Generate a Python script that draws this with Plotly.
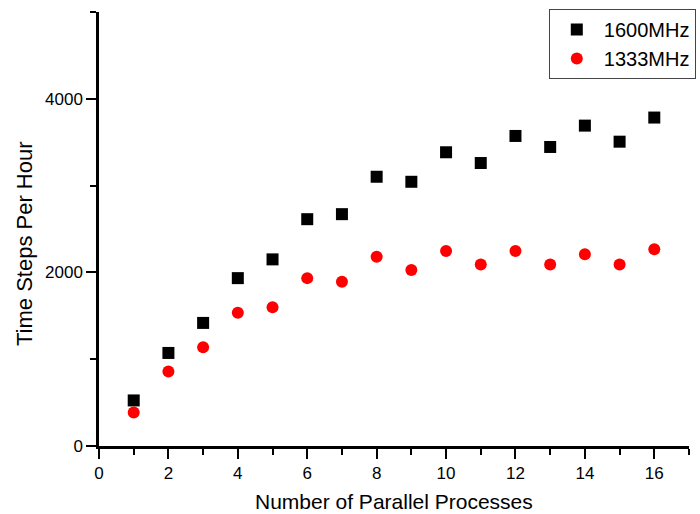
import plotly.graph_objects as go

# Number of parallel processes
processes = list(range(1, 17))

# Throughput (time steps per hour) for each memory speed
steps_1600 = [525, 1072, 1418, 1934, 2150, 2613, 2671, 3102, 3044, 3384,
              3260, 3572, 3445, 3691, 3506, 3784]
steps_1333 = [385, 859, 1137, 1534, 1599, 1934, 1892, 2181, 2027, 2246,
              2092, 2246, 2092, 2208, 2092, 2266]

x_ticks = [0, 2, 4, 6, 8, 10, 12, 14, 16]
y_ticks = [0, 2000, 4000]

FONT = "Liberation Sans, Arial, sans-serif"

fig = go.Figure()
fig.add_trace(go.Scatter(
    x=processes, y=steps_1600, mode="markers", name="1600MHz",
    marker=dict(symbol="square", size=12, color="black"),
))
fig.add_trace(go.Scatter(
    x=processes, y=steps_1333, mode="markers", name="1333MHz",
    marker=dict(symbol="circle", size=12, color="#ff0000"),
))

axis_common = dict(
    showline=True, linecolor="black", linewidth=2.5,
    ticks="outside", ticklen=10, tickwidth=2, tickcolor="black",
    showgrid=False, zeroline=False,
    tickfont=dict(family=FONT, size=17, color="black"),
)

fig.update_xaxes(
    range=[0, 17], tickvals=x_ticks,
    minor=dict(dtick=1, ticks="outside", ticklen=6, tickwidth=2, tickcolor="black", showgrid=False),
    **axis_common,
)
fig.update_yaxes(
    range=[0, 5000], tickvals=y_ticks,
    minor=dict(dtick=1000, ticks="outside", ticklen=6, tickwidth=2, tickcolor="black", showgrid=False),
    **axis_common,
)

fig.add_annotation(
    text="Number of Parallel Processes", xref="paper", yref="paper",
    x=0.5, y=-0.1290, xanchor="center", yanchor="middle", showarrow=False,
    font=dict(family=FONT, size=21, color="black"),
)
fig.add_annotation(
    text="Time Steps Per Hour", xref="paper", yref="paper",
    x=-0.1271, y=0.4654, xanchor="center", yanchor="middle", showarrow=False,
    textangle=-90, font=dict(family=FONT, size=22, color="black"),
)

fig.update_layout(
    width=700, height=514,
    margin=dict(l=99, r=11, t=12, b=68, autoexpand=False),
    paper_bgcolor="white", plot_bgcolor="white",
    showlegend=True,
    legend=dict(
        xref="container", yref="container",
        x=0.784, y=0.9825, xanchor="left", yanchor="top",
        bordercolor="#444444", borderwidth=1, bgcolor="white",
        font=dict(family=FONT, size=20, color="black"),
        itemwidth=44, tracegroupgap=0,
    ),
)

fig.write_html("out.html")
